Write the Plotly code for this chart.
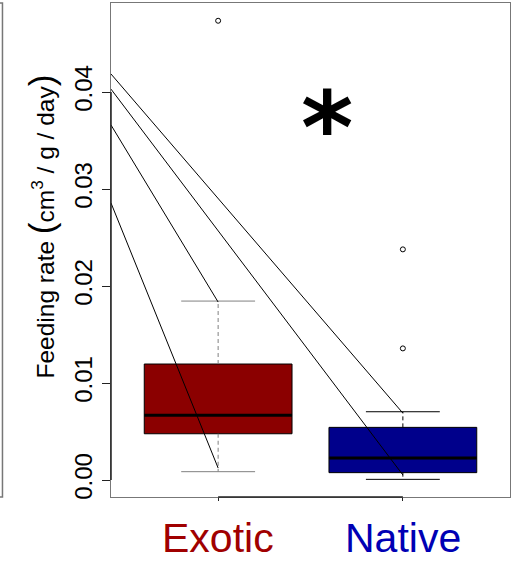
import plotly.graph_objects as go

# ---- data ----
groups = ["Exotic", "Native"]
group_pos = [1, 2]
q1 = [0.00477, 0.00076]
median = [0.00667, 0.00227]
q3 = [0.01196, 0.00543]
whisker_low = [0.00086, 0.00007]
whisker_high = [0.01845, 0.00704]
outlier_group = [1, 2, 2]
outlier_vals = [0.04735, 0.01357, 0.02378]

# paired lines coming in from the left edge
line_start_vals = [0.02856, 0.0366, 0.0403, 0.04186]
line_end_group = [1, 1, 2, 2]
line_end_vals = [0.00124, 0.01835, 0.00052, 0.0069]

y_ticks = [0.0, 0.01, 0.02, 0.03, 0.04]
y_tick_labels = ["0.00", "0.01", "0.02", "0.03", "0.04"]

# ---- styles ----
box_colors = ["#8B0000", "#00008B"]
whisker_colors = ["#808080", "#000000"]
label_colors = ["#A00000", "#0000B4"]
x_range = [0.42, 2.58]
y_range = [-0.00175, 0.04918]
half_box = 0.4
half_cap = 0.2
FONT = "Liberation Sans, Arial, sans-serif"

fig = go.Figure()

for i, p in enumerate(group_pos):
    # box
    fig.add_trace(go.Scatter(
        x=[p - half_box, p + half_box, p + half_box, p - half_box, p - half_box],
        y=[q1[i], q1[i], q3[i], q3[i], q1[i]],
        mode="lines", fill="toself", fillcolor=box_colors[i],
        line=dict(color="black", width=1), hoverinfo="skip", showlegend=False))
    # whiskers (dashed)
    for a, b in [(q3[i], whisker_high[i]), (q1[i], whisker_low[i])]:
        fig.add_trace(go.Scatter(
            x=[p, p], y=[a, b], mode="lines",
            line=dict(color=whisker_colors[i], width=1, dash="4px,3px"),
            hoverinfo="skip", showlegend=False))
    # caps
    for v in [whisker_high[i], whisker_low[i]]:
        fig.add_trace(go.Scatter(
            x=[p - half_cap, p + half_cap], y=[v, v], mode="lines",
            line=dict(color=whisker_colors[i], width=1),
            hoverinfo="skip", showlegend=False))
    # median
    fig.add_trace(go.Scatter(
        x=[p - half_box, p + half_box], y=[median[i], median[i]], mode="lines",
        line=dict(color="black", width=3), hoverinfo="skip", showlegend=False))

# connecting lines
for s, g, e in zip(line_start_vals, line_end_group, line_end_vals):
    fig.add_trace(go.Scatter(
        x=[x_range[0], g], y=[s, e], mode="lines",
        line=dict(color="black", width=1), hoverinfo="skip", showlegend=False))

# outliers
fig.add_trace(go.Scatter(
    x=outlier_group, y=outlier_vals, mode="markers",
    marker=dict(symbol="circle-open", size=5, color="black", line=dict(width=1)),
    hoverinfo="skip", showlegend=False))

fig.update_layout(
    width=514, height=562,
    margin=dict(l=111, r=4, t=3, b=65),
    paper_bgcolor="white", plot_bgcolor="white",
    font=dict(family=FONT, color="black"),
    xaxis=dict(range=x_range, showgrid=False, zeroline=False,
               showline=True, mirror=True, linecolor="#777", linewidth=1,
               tickvals=group_pos, ticks="outside", ticklen=3, tickcolor="#222",
               showticklabels=False),
    yaxis=dict(range=y_range, showgrid=False, zeroline=False,
               showline=True, mirror=True, linecolor="#777", linewidth=1,
               tickvals=y_ticks, ticktext=y_tick_labels, ticks="outside",
               ticklen=8, tickcolor="#222", tickangle=-90,
               tickfont=dict(size=24, family=FONT, color="black")),
)

# darker R-style axis segments
fig.add_shape(type="line", xref="x", yref="paper", x0=group_pos[0], x1=group_pos[-1],
              y0=0, y1=0, line=dict(color="#222", width=1.5))
fig.add_shape(type="line", xref="paper", yref="y", x0=0, x1=0,
              y0=y_ticks[0], y1=y_ticks[-1], line=dict(color="#222", width=1.5))
# edge of the neighbouring panel
fig.add_shape(type="rect", xref="paper", yref="paper", x0=-0.32, x1=-0.272,
              y0=0, y1=1, line=dict(color="#777", width=1.5))

# y title
fig.add_annotation(
    xref="paper", yref="paper", x=(41 - 111) / 399, y=(497 - 226.5) / 494,
    xanchor="center", yanchor="middle",
    textangle=-90, showarrow=False,
    text="Feeding rate <span style='font-size:35px'>(</span>cm<sup>3</sup> / g / day<span style='font-size:35px'>)</span>",
    font=dict(size=24.5, family=FONT, color="black"))

# significance asterisk
fig.add_annotation(
    xref="paper", yref="paper", x=(327 - 111) / 399, y=(497 - 128) / 494,
    xanchor="center", yanchor="middle", showarrow=False, text="<b>*</b>",
    font=dict(size=100, family="DejaVu Sans", color="black"))

# group labels
for i, p in enumerate(group_pos):
    fig.add_annotation(
        xref="x", yref="paper", x=p, y=-0.084, xanchor="center", yanchor="middle",
        showarrow=False, text=groups[i],
        font=dict(size=41, family=FONT, color=label_colors[i]))

fig.write_html("out.html", config={"displayModeBar": False},
               post_script="document.body.style.margin='0';")
